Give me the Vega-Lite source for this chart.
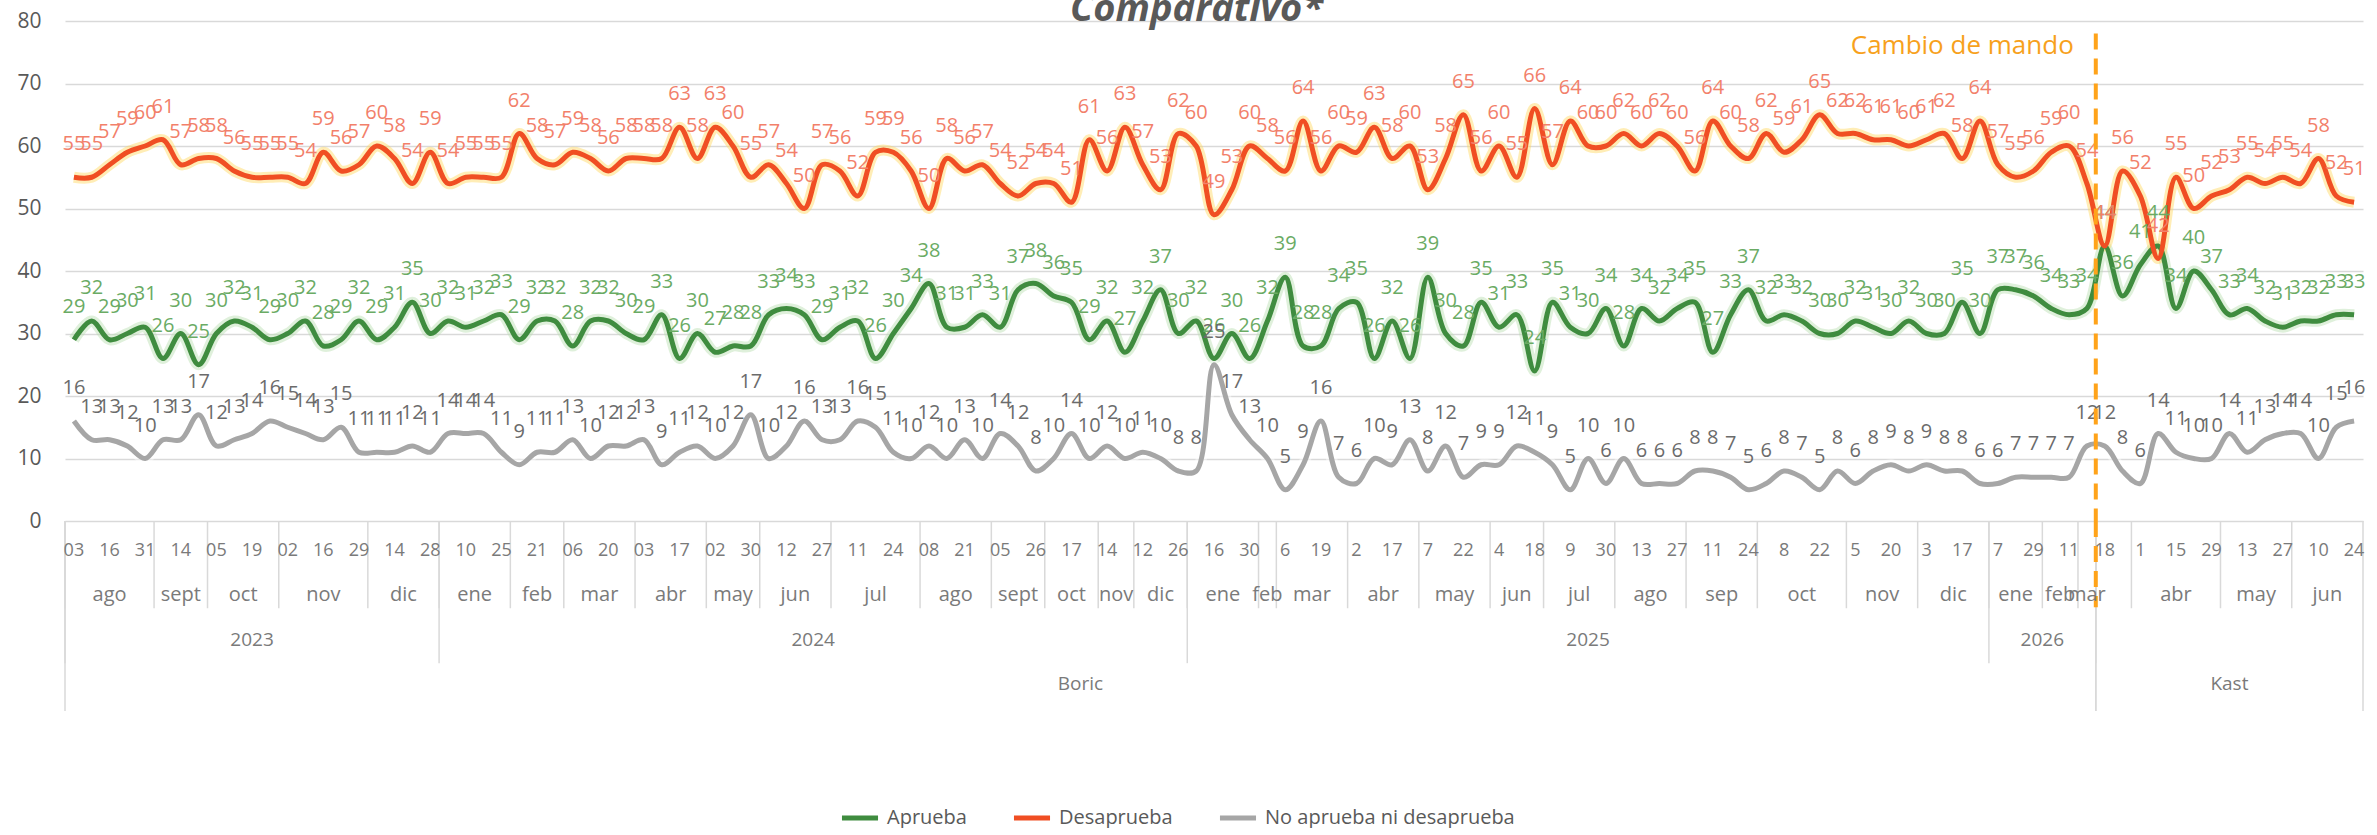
{
  "$schema": "https://vega.github.io/schema/vega-lite/v6.json",
  "padding": {"top": -9, "left": 16, "right": 15, "bottom": 0},
  "background": "white",
  "bounds": "flush",
  "title": {"text": "Comparativo*", "fontSize": 38, "fontWeight": "bold", "fontStyle": "italic", "color": "#595959", "font": "Open Sans", "anchor": "middle", "offset": -19},
  "config": {"view": {"stroke": null}, "font": "Open Sans", "text": {"font": "Open Sans"}},
  "datasets": {
    "filas": [
      {"i":0,"dia":"03","mes":"ago","anio":"2023","pres":"Boric","Aprueba":29,"Desaprueba":55,"No aprueba ni desaprueba":16},
      {"i":1,"dia":"10","mes":"ago","anio":"2023","pres":"Boric","Aprueba":32,"Desaprueba":55,"No aprueba ni desaprueba":13},
      {"i":2,"dia":"16","mes":"ago","anio":"2023","pres":"Boric","Aprueba":29,"Desaprueba":57,"No aprueba ni desaprueba":13},
      {"i":3,"dia":"24","mes":"ago","anio":"2023","pres":"Boric","Aprueba":30,"Desaprueba":59,"No aprueba ni desaprueba":12},
      {"i":4,"dia":"31","mes":"ago","anio":"2023","pres":"Boric","Aprueba":31,"Desaprueba":60,"No aprueba ni desaprueba":10},
      {"i":5,"dia":"07","mes":"sept","anio":"2023","pres":"Boric","Aprueba":26,"Desaprueba":61,"No aprueba ni desaprueba":13},
      {"i":6,"dia":"14","mes":"sept","anio":"2023","pres":"Boric","Aprueba":30,"Desaprueba":57,"No aprueba ni desaprueba":13},
      {"i":7,"dia":"28","mes":"sept","anio":"2023","pres":"Boric","Aprueba":25,"Desaprueba":58,"No aprueba ni desaprueba":17},
      {"i":8,"dia":"05","mes":"oct","anio":"2023","pres":"Boric","Aprueba":30,"Desaprueba":58,"No aprueba ni desaprueba":12},
      {"i":9,"dia":"12","mes":"oct","anio":"2023","pres":"Boric","Aprueba":32,"Desaprueba":56,"No aprueba ni desaprueba":13},
      {"i":10,"dia":"19","mes":"oct","anio":"2023","pres":"Boric","Aprueba":31,"Desaprueba":55,"No aprueba ni desaprueba":14},
      {"i":11,"dia":"26","mes":"oct","anio":"2023","pres":"Boric","Aprueba":29,"Desaprueba":55,"No aprueba ni desaprueba":16},
      {"i":12,"dia":"02","mes":"nov","anio":"2023","pres":"Boric","Aprueba":30,"Desaprueba":55,"No aprueba ni desaprueba":15},
      {"i":13,"dia":"09","mes":"nov","anio":"2023","pres":"Boric","Aprueba":32,"Desaprueba":54,"No aprueba ni desaprueba":14},
      {"i":14,"dia":"16","mes":"nov","anio":"2023","pres":"Boric","Aprueba":28,"Desaprueba":59,"No aprueba ni desaprueba":13},
      {"i":15,"dia":"23","mes":"nov","anio":"2023","pres":"Boric","Aprueba":29,"Desaprueba":56,"No aprueba ni desaprueba":15},
      {"i":16,"dia":"29","mes":"nov","anio":"2023","pres":"Boric","Aprueba":32,"Desaprueba":57,"No aprueba ni desaprueba":11},
      {"i":17,"dia":"07","mes":"dic","anio":"2023","pres":"Boric","Aprueba":29,"Desaprueba":60,"No aprueba ni desaprueba":11},
      {"i":18,"dia":"14","mes":"dic","anio":"2023","pres":"Boric","Aprueba":31,"Desaprueba":58,"No aprueba ni desaprueba":11},
      {"i":19,"dia":"21","mes":"dic","anio":"2023","pres":"Boric","Aprueba":35,"Desaprueba":54,"No aprueba ni desaprueba":12},
      {"i":20,"dia":"28","mes":"dic","anio":"2023","pres":"Boric","Aprueba":30,"Desaprueba":59,"No aprueba ni desaprueba":11},
      {"i":21,"dia":"04","mes":"ene","anio":"2024","pres":"Boric","Aprueba":32,"Desaprueba":54,"No aprueba ni desaprueba":14},
      {"i":22,"dia":"10","mes":"ene","anio":"2024","pres":"Boric","Aprueba":31,"Desaprueba":55,"No aprueba ni desaprueba":14},
      {"i":23,"dia":"18","mes":"ene","anio":"2024","pres":"Boric","Aprueba":32,"Desaprueba":55,"No aprueba ni desaprueba":14},
      {"i":24,"dia":"25","mes":"ene","anio":"2024","pres":"Boric","Aprueba":33,"Desaprueba":55,"No aprueba ni desaprueba":11},
      {"i":25,"dia":"08","mes":"feb","anio":"2024","pres":"Boric","Aprueba":29,"Desaprueba":62,"No aprueba ni desaprueba":9},
      {"i":26,"dia":"21","mes":"feb","anio":"2024","pres":"Boric","Aprueba":32,"Desaprueba":58,"No aprueba ni desaprueba":11},
      {"i":27,"dia":"28","mes":"feb","anio":"2024","pres":"Boric","Aprueba":32,"Desaprueba":57,"No aprueba ni desaprueba":11},
      {"i":28,"dia":"06","mes":"mar","anio":"2024","pres":"Boric","Aprueba":28,"Desaprueba":59,"No aprueba ni desaprueba":13},
      {"i":29,"dia":"13","mes":"mar","anio":"2024","pres":"Boric","Aprueba":32,"Desaprueba":58,"No aprueba ni desaprueba":10},
      {"i":30,"dia":"20","mes":"mar","anio":"2024","pres":"Boric","Aprueba":32,"Desaprueba":56,"No aprueba ni desaprueba":12},
      {"i":31,"dia":"27","mes":"mar","anio":"2024","pres":"Boric","Aprueba":30,"Desaprueba":58,"No aprueba ni desaprueba":12},
      {"i":32,"dia":"03","mes":"abr","anio":"2024","pres":"Boric","Aprueba":29,"Desaprueba":58,"No aprueba ni desaprueba":13},
      {"i":33,"dia":"10","mes":"abr","anio":"2024","pres":"Boric","Aprueba":33,"Desaprueba":58,"No aprueba ni desaprueba":9},
      {"i":34,"dia":"17","mes":"abr","anio":"2024","pres":"Boric","Aprueba":26,"Desaprueba":63,"No aprueba ni desaprueba":11},
      {"i":35,"dia":"24","mes":"abr","anio":"2024","pres":"Boric","Aprueba":30,"Desaprueba":58,"No aprueba ni desaprueba":12},
      {"i":36,"dia":"02","mes":"may","anio":"2024","pres":"Boric","Aprueba":27,"Desaprueba":63,"No aprueba ni desaprueba":10},
      {"i":37,"dia":"16","mes":"may","anio":"2024","pres":"Boric","Aprueba":28,"Desaprueba":60,"No aprueba ni desaprueba":12},
      {"i":38,"dia":"30","mes":"may","anio":"2024","pres":"Boric","Aprueba":28,"Desaprueba":55,"No aprueba ni desaprueba":17},
      {"i":39,"dia":"05","mes":"jun","anio":"2024","pres":"Boric","Aprueba":33,"Desaprueba":57,"No aprueba ni desaprueba":10},
      {"i":40,"dia":"12","mes":"jun","anio":"2024","pres":"Boric","Aprueba":34,"Desaprueba":54,"No aprueba ni desaprueba":12},
      {"i":41,"dia":"19","mes":"jun","anio":"2024","pres":"Boric","Aprueba":33,"Desaprueba":50,"No aprueba ni desaprueba":16},
      {"i":42,"dia":"27","mes":"jun","anio":"2024","pres":"Boric","Aprueba":29,"Desaprueba":57,"No aprueba ni desaprueba":13},
      {"i":43,"dia":"04","mes":"jul","anio":"2024","pres":"Boric","Aprueba":31,"Desaprueba":56,"No aprueba ni desaprueba":13},
      {"i":44,"dia":"11","mes":"jul","anio":"2024","pres":"Boric","Aprueba":32,"Desaprueba":52,"No aprueba ni desaprueba":16},
      {"i":45,"dia":"17","mes":"jul","anio":"2024","pres":"Boric","Aprueba":26,"Desaprueba":59,"No aprueba ni desaprueba":15},
      {"i":46,"dia":"24","mes":"jul","anio":"2024","pres":"Boric","Aprueba":30,"Desaprueba":59,"No aprueba ni desaprueba":11},
      {"i":47,"dia":"31","mes":"jul","anio":"2024","pres":"Boric","Aprueba":34,"Desaprueba":56,"No aprueba ni desaprueba":10},
      {"i":48,"dia":"08","mes":"ago","anio":"2024","pres":"Boric","Aprueba":38,"Desaprueba":50,"No aprueba ni desaprueba":12},
      {"i":49,"dia":"14","mes":"ago","anio":"2024","pres":"Boric","Aprueba":31,"Desaprueba":58,"No aprueba ni desaprueba":10},
      {"i":50,"dia":"21","mes":"ago","anio":"2024","pres":"Boric","Aprueba":31,"Desaprueba":56,"No aprueba ni desaprueba":13},
      {"i":51,"dia":"28","mes":"ago","anio":"2024","pres":"Boric","Aprueba":33,"Desaprueba":57,"No aprueba ni desaprueba":10},
      {"i":52,"dia":"05","mes":"sept","anio":"2024","pres":"Boric","Aprueba":31,"Desaprueba":54,"No aprueba ni desaprueba":14},
      {"i":53,"dia":"12","mes":"sept","anio":"2024","pres":"Boric","Aprueba":37,"Desaprueba":52,"No aprueba ni desaprueba":12},
      {"i":54,"dia":"26","mes":"sept","anio":"2024","pres":"Boric","Aprueba":38,"Desaprueba":54,"No aprueba ni desaprueba":8},
      {"i":55,"dia":"03","mes":"oct","anio":"2024","pres":"Boric","Aprueba":36,"Desaprueba":54,"No aprueba ni desaprueba":10},
      {"i":56,"dia":"17","mes":"oct","anio":"2024","pres":"Boric","Aprueba":35,"Desaprueba":51,"No aprueba ni desaprueba":14},
      {"i":57,"dia":"31","mes":"oct","anio":"2024","pres":"Boric","Aprueba":29,"Desaprueba":61,"No aprueba ni desaprueba":10},
      {"i":58,"dia":"14","mes":"nov","anio":"2024","pres":"Boric","Aprueba":32,"Desaprueba":56,"No aprueba ni desaprueba":12},
      {"i":59,"dia":"21","mes":"nov","anio":"2024","pres":"Boric","Aprueba":27,"Desaprueba":63,"No aprueba ni desaprueba":10},
      {"i":60,"dia":"12","mes":"dic","anio":"2024","pres":"Boric","Aprueba":32,"Desaprueba":57,"No aprueba ni desaprueba":11},
      {"i":61,"dia":"19","mes":"dic","anio":"2024","pres":"Boric","Aprueba":37,"Desaprueba":53,"No aprueba ni desaprueba":10},
      {"i":62,"dia":"26","mes":"dic","anio":"2024","pres":"Boric","Aprueba":30,"Desaprueba":62,"No aprueba ni desaprueba":8},
      {"i":63,"dia":"9","mes":"ene","anio":"2025","pres":"Boric","Aprueba":32,"Desaprueba":60,"No aprueba ni desaprueba":8},
      {"i":64,"dia":"16","mes":"ene","anio":"2025","pres":"Boric","Aprueba":26,"Desaprueba":49,"No aprueba ni desaprueba":25},
      {"i":65,"dia":"23","mes":"ene","anio":"2025","pres":"Boric","Aprueba":30,"Desaprueba":53,"No aprueba ni desaprueba":17},
      {"i":66,"dia":"30","mes":"ene","anio":"2025","pres":"Boric","Aprueba":26,"Desaprueba":60,"No aprueba ni desaprueba":13},
      {"i":67,"dia":"13","mes":"feb","anio":"2025","pres":"Boric","Aprueba":32,"Desaprueba":58,"No aprueba ni desaprueba":10},
      {"i":68,"dia":"6","mes":"mar","anio":"2025","pres":"Boric","Aprueba":39,"Desaprueba":56,"No aprueba ni desaprueba":5},
      {"i":69,"dia":"13","mes":"mar","anio":"2025","pres":"Boric","Aprueba":28,"Desaprueba":64,"No aprueba ni desaprueba":9},
      {"i":70,"dia":"19","mes":"mar","anio":"2025","pres":"Boric","Aprueba":28,"Desaprueba":56,"No aprueba ni desaprueba":16},
      {"i":71,"dia":"26","mes":"mar","anio":"2025","pres":"Boric","Aprueba":34,"Desaprueba":60,"No aprueba ni desaprueba":7},
      {"i":72,"dia":"2","mes":"abr","anio":"2025","pres":"Boric","Aprueba":35,"Desaprueba":59,"No aprueba ni desaprueba":6},
      {"i":73,"dia":"9","mes":"abr","anio":"2025","pres":"Boric","Aprueba":26,"Desaprueba":63,"No aprueba ni desaprueba":10},
      {"i":74,"dia":"17","mes":"abr","anio":"2025","pres":"Boric","Aprueba":32,"Desaprueba":58,"No aprueba ni desaprueba":9},
      {"i":75,"dia":"24","mes":"abr","anio":"2025","pres":"Boric","Aprueba":26,"Desaprueba":60,"No aprueba ni desaprueba":13},
      {"i":76,"dia":"7","mes":"may","anio":"2025","pres":"Boric","Aprueba":39,"Desaprueba":53,"No aprueba ni desaprueba":8},
      {"i":77,"dia":"14","mes":"may","anio":"2025","pres":"Boric","Aprueba":30,"Desaprueba":58,"No aprueba ni desaprueba":12},
      {"i":78,"dia":"22","mes":"may","anio":"2025","pres":"Boric","Aprueba":28,"Desaprueba":65,"No aprueba ni desaprueba":7},
      {"i":79,"dia":"28","mes":"may","anio":"2025","pres":"Boric","Aprueba":35,"Desaprueba":56,"No aprueba ni desaprueba":9},
      {"i":80,"dia":"4","mes":"jun","anio":"2025","pres":"Boric","Aprueba":31,"Desaprueba":60,"No aprueba ni desaprueba":9},
      {"i":81,"dia":"11","mes":"jun","anio":"2025","pres":"Boric","Aprueba":33,"Desaprueba":55,"No aprueba ni desaprueba":12},
      {"i":82,"dia":"18","mes":"jun","anio":"2025","pres":"Boric","Aprueba":24,"Desaprueba":66,"No aprueba ni desaprueba":11},
      {"i":83,"dia":"2","mes":"jul","anio":"2025","pres":"Boric","Aprueba":35,"Desaprueba":57,"No aprueba ni desaprueba":9},
      {"i":84,"dia":"9","mes":"jul","anio":"2025","pres":"Boric","Aprueba":31,"Desaprueba":64,"No aprueba ni desaprueba":5},
      {"i":85,"dia":"16","mes":"jul","anio":"2025","pres":"Boric","Aprueba":30,"Desaprueba":60,"No aprueba ni desaprueba":10},
      {"i":86,"dia":"30","mes":"jul","anio":"2025","pres":"Boric","Aprueba":34,"Desaprueba":60,"No aprueba ni desaprueba":6},
      {"i":87,"dia":"6","mes":"ago","anio":"2025","pres":"Boric","Aprueba":28,"Desaprueba":62,"No aprueba ni desaprueba":10},
      {"i":88,"dia":"13","mes":"ago","anio":"2025","pres":"Boric","Aprueba":34,"Desaprueba":60,"No aprueba ni desaprueba":6},
      {"i":89,"dia":"20","mes":"ago","anio":"2025","pres":"Boric","Aprueba":32,"Desaprueba":62,"No aprueba ni desaprueba":6},
      {"i":90,"dia":"27","mes":"ago","anio":"2025","pres":"Boric","Aprueba":34,"Desaprueba":60,"No aprueba ni desaprueba":6},
      {"i":91,"dia":"3","mes":"sep","anio":"2025","pres":"Boric","Aprueba":35,"Desaprueba":56,"No aprueba ni desaprueba":8},
      {"i":92,"dia":"11","mes":"sep","anio":"2025","pres":"Boric","Aprueba":27,"Desaprueba":64,"No aprueba ni desaprueba":8},
      {"i":93,"dia":"17","mes":"sep","anio":"2025","pres":"Boric","Aprueba":33,"Desaprueba":60,"No aprueba ni desaprueba":7},
      {"i":94,"dia":"24","mes":"sep","anio":"2025","pres":"Boric","Aprueba":37,"Desaprueba":58,"No aprueba ni desaprueba":5},
      {"i":95,"dia":"1","mes":"oct","anio":"2025","pres":"Boric","Aprueba":32,"Desaprueba":62,"No aprueba ni desaprueba":6},
      {"i":96,"dia":"8","mes":"oct","anio":"2025","pres":"Boric","Aprueba":33,"Desaprueba":59,"No aprueba ni desaprueba":8},
      {"i":97,"dia":"15","mes":"oct","anio":"2025","pres":"Boric","Aprueba":32,"Desaprueba":61,"No aprueba ni desaprueba":7},
      {"i":98,"dia":"22","mes":"oct","anio":"2025","pres":"Boric","Aprueba":30,"Desaprueba":65,"No aprueba ni desaprueba":5},
      {"i":99,"dia":"29","mes":"oct","anio":"2025","pres":"Boric","Aprueba":30,"Desaprueba":62,"No aprueba ni desaprueba":8},
      {"i":100,"dia":"5","mes":"nov","anio":"2025","pres":"Boric","Aprueba":32,"Desaprueba":62,"No aprueba ni desaprueba":6},
      {"i":101,"dia":"12","mes":"nov","anio":"2025","pres":"Boric","Aprueba":31,"Desaprueba":61,"No aprueba ni desaprueba":8},
      {"i":102,"dia":"20","mes":"nov","anio":"2025","pres":"Boric","Aprueba":30,"Desaprueba":61,"No aprueba ni desaprueba":9},
      {"i":103,"dia":"26","mes":"nov","anio":"2025","pres":"Boric","Aprueba":32,"Desaprueba":60,"No aprueba ni desaprueba":8},
      {"i":104,"dia":"3","mes":"dic","anio":"2025","pres":"Boric","Aprueba":30,"Desaprueba":61,"No aprueba ni desaprueba":9},
      {"i":105,"dia":"10","mes":"dic","anio":"2025","pres":"Boric","Aprueba":30,"Desaprueba":62,"No aprueba ni desaprueba":8},
      {"i":106,"dia":"17","mes":"dic","anio":"2025","pres":"Boric","Aprueba":35,"Desaprueba":58,"No aprueba ni desaprueba":8},
      {"i":107,"dia":"23","mes":"dic","anio":"2025","pres":"Boric","Aprueba":30,"Desaprueba":64,"No aprueba ni desaprueba":6},
      {"i":108,"dia":"7","mes":"ene","anio":"2026","pres":"Boric","Aprueba":37,"Desaprueba":57,"No aprueba ni desaprueba":6},
      {"i":109,"dia":"15","mes":"ene","anio":"2026","pres":"Boric","Aprueba":37,"Desaprueba":55,"No aprueba ni desaprueba":7},
      {"i":110,"dia":"29","mes":"ene","anio":"2026","pres":"Boric","Aprueba":36,"Desaprueba":56,"No aprueba ni desaprueba":7},
      {"i":111,"dia":"4","mes":"feb","anio":"2026","pres":"Boric","Aprueba":34,"Desaprueba":59,"No aprueba ni desaprueba":7},
      {"i":112,"dia":"11","mes":"feb","anio":"2026","pres":"Boric","Aprueba":33,"Desaprueba":60,"No aprueba ni desaprueba":7},
      {"i":113,"dia":"4","mes":"mar","anio":"2026","pres":"Boric","Aprueba":34,"Desaprueba":54,"No aprueba ni desaprueba":12},
      {"i":114,"dia":"18","mes":"mar","anio":"2026","pres":"Kast","Aprueba":44,"Desaprueba":44,"No aprueba ni desaprueba":12},
      {"i":115,"dia":"25","mes":"mar","anio":"2026","pres":"Kast","Aprueba":36,"Desaprueba":56,"No aprueba ni desaprueba":8},
      {"i":116,"dia":"1","mes":"abr","anio":"2026","pres":"Kast","Aprueba":41,"Desaprueba":52,"No aprueba ni desaprueba":6},
      {"i":117,"dia":"8","mes":"abr","anio":"2026","pres":"Kast","Aprueba":44,"Desaprueba":42,"No aprueba ni desaprueba":14},
      {"i":118,"dia":"15","mes":"abr","anio":"2026","pres":"Kast","Aprueba":34,"Desaprueba":55,"No aprueba ni desaprueba":11},
      {"i":119,"dia":"22","mes":"abr","anio":"2026","pres":"Kast","Aprueba":40,"Desaprueba":50,"No aprueba ni desaprueba":10},
      {"i":120,"dia":"29","mes":"abr","anio":"2026","pres":"Kast","Aprueba":37,"Desaprueba":52,"No aprueba ni desaprueba":10},
      {"i":121,"dia":"6","mes":"may","anio":"2026","pres":"Kast","Aprueba":33,"Desaprueba":53,"No aprueba ni desaprueba":14},
      {"i":122,"dia":"13","mes":"may","anio":"2026","pres":"Kast","Aprueba":34,"Desaprueba":55,"No aprueba ni desaprueba":11},
      {"i":123,"dia":"20","mes":"may","anio":"2026","pres":"Kast","Aprueba":32,"Desaprueba":54,"No aprueba ni desaprueba":13},
      {"i":124,"dia":"27","mes":"may","anio":"2026","pres":"Kast","Aprueba":31,"Desaprueba":55,"No aprueba ni desaprueba":14},
      {"i":125,"dia":"3","mes":"jun","anio":"2026","pres":"Kast","Aprueba":32,"Desaprueba":54,"No aprueba ni desaprueba":14},
      {"i":126,"dia":"10","mes":"jun","anio":"2026","pres":"Kast","Aprueba":32,"Desaprueba":58,"No aprueba ni desaprueba":10},
      {"i":127,"dia":"17","mes":"jun","anio":"2026","pres":"Kast","Aprueba":33,"Desaprueba":52,"No aprueba ni desaprueba":15},
      {"i":128,"dia":"24","mes":"jun","anio":"2026","pres":"Kast","Aprueba":33,"Desaprueba":51,"No aprueba ni desaprueba":16}
    ]
  },
  "spacing": 0,
  "resolve": {"scale": {"x": "shared"}},
  "vconcat": [
    {
      "width": 2298,
      "height": 500,
      "data": {"name": "filas"},
      "layer": [
        {
          "transform": [
            {"fold": ["Aprueba", "Desaprueba", "No aprueba ni desaprueba"], "as": ["serie", "valor"]},
            {"calculate": "datum.serie", "as": "estilo"}
          ],
          "layer": [
            {
              "mark": {"type": "line", "interpolate": "catmull-rom", "strokeWidth": 11, "opacity": 0.45},
              "encoding": {
                "x": {"field": "i", "type": "quantitative", "scale": {"domain": [-0.5, 128.5], "nice": false, "zero": false}, "axis": null},
                "y": {"field": "valor", "type": "quantitative", "scale": {"domain": [0, 80], "nice": false}, "axis": {"values": [0, 10, 20, 30, 40, 50, 60, 70, 80], "grid": true, "gridColor": "#d9d9d9", "gridWidth": 1.5, "domain": false, "ticks": false, "labelFontSize": 21, "labelColor": "#595959", "labelPadding": 24, "title": null}},
                "stroke": {"field": "estilo", "type": "nominal", "scale": {"domain": ["No aprueba ni desaprueba", "Desaprueba", "Aprueba"], "range": ["#ffffff", "#ffd75e", "#b9deb0"]}, "legend": null}
              }
            },
            {
              "mark": {"type": "line", "interpolate": "catmull-rom", "strokeWidth": 5},
              "encoding": {
                "x": {"field": "i", "type": "quantitative", "scale": {"domain": [-0.5, 128.5], "nice": false, "zero": false}, "axis": null},
                "y": {"field": "valor", "type": "quantitative", "scale": {"domain": [0, 80], "nice": false}, "axis": {"values": [0, 10, 20, 30, 40, 50, 60, 70, 80], "grid": true, "gridColor": "#d9d9d9", "gridWidth": 1.5, "domain": false, "ticks": false, "labelFontSize": 21, "labelColor": "#595959", "labelPadding": 24, "title": null}},
                "color": {"field": "serie", "type": "nominal", "scale": {"domain": ["Aprueba", "Desaprueba", "No aprueba ni desaprueba"], "range": ["#3f8c3f", "#f04e23", "#a6a6a6"]},
                  "legend": {"orient": "none", "legendX": 774, "legendY": 776, "padding": 0, "direction": "horizontal", "title": null, "labelFontSize": 20, "labelColor": "#595959", "labelFont": "Open Sans", "labelLimit": 500, "symbolType": "stroke", "symbolStrokeWidth": 5, "symbolSize": 1300, "columnPadding": 36, "labelOffset": 6}}
              }
            },
            {
              "mark": {"type": "text", "dy": -33, "baseline": "middle", "fontSize": 20},
              "encoding": {
                "x": {"field": "i", "type": "quantitative", "scale": {"domain": [-0.5, 128.5], "nice": false, "zero": false}, "axis": null},
                "y": {"field": "valor", "type": "quantitative", "scale": {"domain": [0, 80], "nice": false}, "axis": {"values": [0, 10, 20, 30, 40, 50, 60, 70, 80], "grid": true, "gridColor": "#d9d9d9", "gridWidth": 1.5, "domain": false, "ticks": false, "labelFontSize": 21, "labelColor": "#595959", "labelPadding": 24, "title": null}},
                "text": {"field": "valor", "type": "quantitative"},
                "fill": {"field": "estilo", "type": "nominal", "scale": {"domain": ["Desaprueba", "No aprueba ni desaprueba", "Aprueba"], "range": ["#f2806a", "#6b6b6b", "#6aab64"]}, "legend": null}
              }
            }
          ]
        },
        {
          "transform": [
            {"aggregate": [{"op": "min", "field": "i", "as": "ini"}], "groupby": ["pres"]},
            {"filter": "datum.pres === 'Kast'"},
            {"calculate": "datum.ini - 0.5", "as": "b"}
          ],
          "layer": [
            {
              "mark": {"type": "rule", "color": "#ffa31a", "strokeWidth": 4, "strokeDash": [16, 9]},
              "encoding": {
                "x": {"field": "b", "type": "quantitative", "scale": {"domain": [-0.5, 128.5], "nice": false, "zero": false}, "axis": null},
                "y": {"datum": 78, "type": "quantitative"},
                "y2": {"datum": 0}
              }
            },
            {
              "mark": {"type": "text", "align": "right", "baseline": "middle", "dx": -22, "fontSize": 26, "color": "#f7a11c", "font": "Open Sans"},
              "encoding": {
                "x": {"field": "b", "type": "quantitative", "scale": {"domain": [-0.5, 128.5], "nice": false, "zero": false}, "axis": null},
                "y": {"datum": 76, "type": "quantitative"},
                "text": {"value": "Cambio de mando"}
              }
            }
          ]
        }
      ]
    },
    {
      "width": 2298,
      "height": 190,
      "data": {"name": "filas"},
      "layer": [
        {
          "transform": [
            {"aggregate": [{"op": "min", "field": "i", "as": "ini"}], "groupby": ["pres", "anio", "mes"]},
            {"calculate": "datum.ini - 0.5", "as": "b"}
          ],
          "mark": {"type": "rule", "color": "#d9d9d9", "strokeWidth": 1.5},
          "encoding": {
            "x": {"field": "b", "type": "quantitative", "scale": {"domain": [-0.5, 128.5], "nice": false, "zero": false}, "axis": null},
            "y": {"datum": -0.68, "type": "quantitative", "scale": {"domain": [-0.68, 3.61], "reverse": true, "nice": false, "zero": false}, "axis": null},
            "y2": {"datum": 1.29}
          }
        },
        {
          "transform": [
            {"aggregate": [{"op": "min", "field": "i", "as": "ini"}], "groupby": ["pres", "anio"]},
            {"calculate": "datum.ini - 0.5", "as": "b"}
          ],
          "mark": {"type": "rule", "color": "#d9d9d9", "strokeWidth": 1.5},
          "encoding": {
            "x": {"field": "b", "type": "quantitative", "scale": {"domain": [-0.5, 128.5], "nice": false, "zero": false}, "axis": null},
            "y": {"datum": -0.68, "type": "quantitative", "scale": {"domain": [-0.68, 3.61], "reverse": true, "nice": false, "zero": false}, "axis": null},
            "y2": {"datum": 2.53}
          }
        },
        {
          "transform": [
            {"aggregate": [{"op": "min", "field": "i", "as": "ini"}, {"op": "max", "field": "i", "as": "fin"}], "groupby": ["pres"]},
            {"calculate": "datum.ini - 0.5", "as": "b0"},
            {"calculate": "datum.fin + 0.5", "as": "b1"},
            {"fold": ["b0", "b1"], "as": ["borde", "b"]}
          ],
          "mark": {"type": "rule", "color": "#d9d9d9", "strokeWidth": 1.5},
          "encoding": {
            "x": {"field": "b", "type": "quantitative", "scale": {"domain": [-0.5, 128.5], "nice": false, "zero": false}, "axis": null},
            "y": {"datum": -0.68, "type": "quantitative", "scale": {"domain": [-0.68, 3.61], "reverse": true, "nice": false, "zero": false}, "axis": null},
            "y2": {"datum": 3.61}
          }
        },
        {
          "transform": [
            {"aggregate": [{"op": "min", "field": "i", "as": "ini"}], "groupby": ["pres"]},
            {"filter": "datum.pres === 'Kast'"},
            {"calculate": "datum.ini - 0.5", "as": "b"}
          ],
          "mark": {"type": "rule", "color": "#ffa31a", "strokeWidth": 4, "strokeDash": [16, 9]},
          "encoding": {
            "x": {"field": "b", "type": "quantitative", "scale": {"domain": [-0.5, 128.5], "nice": false, "zero": false}, "axis": null},
            "y": {"datum": -0.68, "type": "quantitative", "scale": {"domain": [-0.68, 3.61], "reverse": true, "nice": false, "zero": false}, "axis": null},
            "y2": {"datum": 1.27}
          }
        },
        {
          "transform": [{"filter": "datum.i % 2 === 0"}],
          "mark": {"type": "text", "fontSize": 18, "color": "#7a7a7a", "baseline": "middle"},
          "encoding": {
            "x": {"field": "i", "type": "quantitative", "scale": {"domain": [-0.5, 128.5], "nice": false, "zero": false}, "axis": null},
            "y": {"datum": 0, "type": "quantitative", "scale": {"domain": [-0.68, 3.61], "reverse": true, "nice": false, "zero": false}, "axis": null},
            "text": {"field": "dia"}
          }
        },
        {
          "transform": [
            {"aggregate": [{"op": "min", "field": "i", "as": "ini"}, {"op": "max", "field": "i", "as": "fin"}], "groupby": ["pres", "anio", "mes"]},
            {"filter": "!(datum.pres === 'Kast' && datum.mes === 'mar')"},
            {"calculate": "(datum.ini + datum.fin) / 2", "as": "c"}
          ],
          "mark": {"type": "text", "fontSize": 20, "color": "#7a7a7a", "baseline": "middle"},
          "encoding": {
            "x": {"field": "c", "type": "quantitative", "scale": {"domain": [-0.5, 128.5], "nice": false, "zero": false}, "axis": null},
            "y": {"datum": 1, "type": "quantitative", "scale": {"domain": [-0.68, 3.61], "reverse": true, "nice": false, "zero": false}, "axis": null},
            "text": {"field": "mes"}
          }
        },
        {
          "transform": [
            {"aggregate": [{"op": "min", "field": "i", "as": "ini"}, {"op": "max", "field": "i", "as": "fin"}], "groupby": ["pres", "anio"]},
            {"filter": "datum.pres !== 'Kast'"},
            {"calculate": "(datum.ini + datum.fin) / 2", "as": "c"}
          ],
          "mark": {"type": "text", "fontSize": 19, "color": "#7a7a7a", "baseline": "middle"},
          "encoding": {
            "x": {"field": "c", "type": "quantitative", "scale": {"domain": [-0.5, 128.5], "nice": false, "zero": false}, "axis": null},
            "y": {"datum": 2, "type": "quantitative", "scale": {"domain": [-0.68, 3.61], "reverse": true, "nice": false, "zero": false}, "axis": null},
            "text": {"field": "anio"}
          }
        },
        {
          "transform": [
            {"aggregate": [{"op": "min", "field": "i", "as": "ini"}, {"op": "max", "field": "i", "as": "fin"}], "groupby": ["pres"]},
            {"calculate": "(datum.ini + datum.fin) / 2", "as": "c"}
          ],
          "mark": {"type": "text", "fontSize": 19, "color": "#7a7a7a", "baseline": "middle"},
          "encoding": {
            "x": {"field": "c", "type": "quantitative", "scale": {"domain": [-0.5, 128.5], "nice": false, "zero": false}, "axis": null},
            "y": {"datum": 3, "type": "quantitative", "scale": {"domain": [-0.68, 3.61], "reverse": true, "nice": false, "zero": false}, "axis": null},
            "text": {"field": "pres"}
          }
        }
      ]
    }
  ]
}
